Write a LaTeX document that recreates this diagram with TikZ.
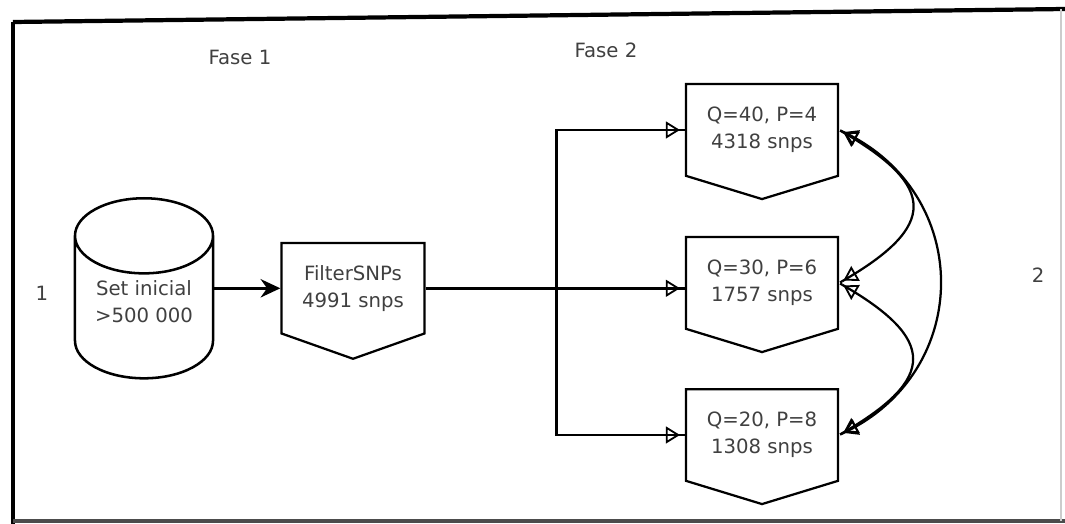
\documentclass[tikz,border=0pt]{standalone}
\usepackage{fontspec}
\setmainfont{DejaVu Sans}
\usetikzlibrary{shapes.geometric,shapes.symbols,arrows.meta,calc}

\begin{document}
\begin{tikzpicture}[x=0.025cm,y=-0.025cm,
    txt/.style={text=black!75, font=\fontsize{14}{19}\selectfont},
    db/.style={txt, draw, line width=1.8pt, cylinder, shape border rotate=90, aspect=0.7,
        minimum width=3.45cm, minimum height=4.5cm, align=center, inner ysep=0pt, text depth=18pt},
    snpbox/.style={txt, draw, line width=1.6pt, signal, signal to=south, signal from=nowhere,
        signal pointer angle=146, minimum width=3.8cm, minimum height=2.75cm, align=center},
    link/.style={line width=2pt,
        -{Triangle[open,length=10pt,width=12pt,line width=1.3pt] Rectangle[length=3.5pt,width=2pt]}},
    both/.style={line width=1.6pt,
        {Rectangle[length=3.5pt,width=1.6pt] Triangle[open,length=10pt,width=12pt,line width=1.3pt]}-{Triangle[open,length=10pt,width=12pt,line width=1.3pt] Rectangle[length=3.5pt,width=1.6pt]}}]
    \useasboundingbox (0,0) rectangle (1065,524);

    % frame
    \draw[line width=3pt] (13,22) -- (1065,9);
    \draw[line width=2.5pt] (13,22) -- (13,524);
    \draw[line width=2.5pt, black!70] (13,521) -- (1065,521);
    \draw[line width=0.8pt, black!20] (1061,9) -- (1061,521);

    % labels
    \node[txt] (fase1) at (240,57) {Fase 1};
    \node[txt] (fase2) at (606,50) {Fase 2};
    \node[txt] (one) at (42,293) {1};
    \node[txt] (two) at (1038,275) {2};

    % Fase 1
    \node[db, anchor=north] (set) at (144,197) {Set inicial\\>500 000};
    \node[snpbox, minimum width=3.575cm, signal pointer angle=141, anchor=north] (filter) at (353,242) {FilterSNPs\\4991 snps};

    % Fase 2
    \node[snpbox, anchor=north] (q40) at (762,83) {Q=40, P=4\\4318 snps};
    \node[snpbox, anchor=north] (q30) at (762,236) {Q=30, P=6\\1757 snps};
    \node[snpbox, anchor=north] (q20) at (762,388) {Q=20, P=8\\1308 snps};

    \draw[line width=2pt, -{Stealth[length=14pt,width=13pt]}] (set.east |- filter.west) -- (filter.west);
    \coordinate (split) at ($(filter.east)+(131,0)$);
    \draw[link] (filter.east) -- (filter.east -| q30.west);
    \draw[link] (split) |- (q40.west);
    \draw[link] (split) |- (q20.west);

    \draw[both] (q40.east) to[out=-30,in=30,looseness=1.9] (q30.east);
    \draw[both] (q30.east) to[out=-30,in=30,looseness=1.9] (q20.east);
    \draw[both] (q40.east) to[out=-25,in=25,looseness=1.25] (q20.east);
\end{tikzpicture}
\end{document}
